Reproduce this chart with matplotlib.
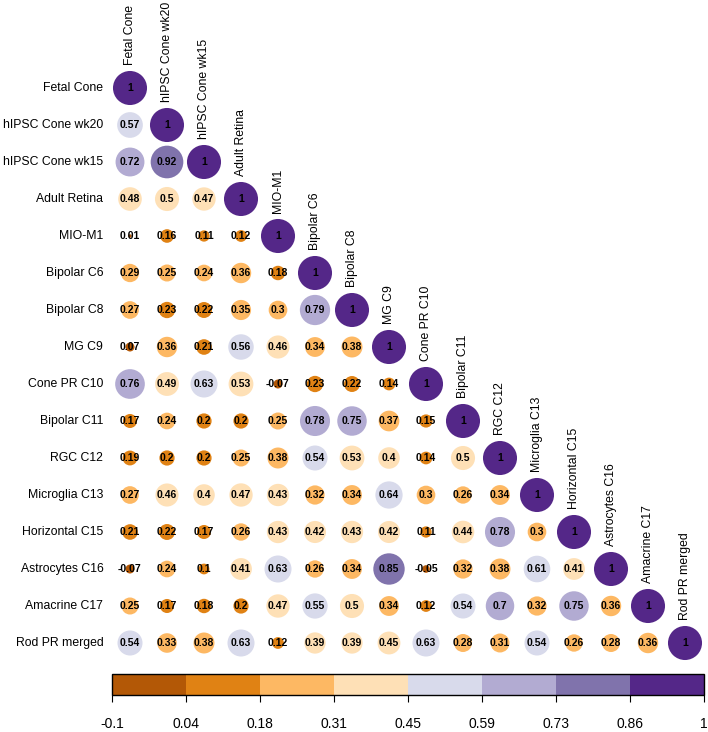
import numpy as np
import matplotlib
matplotlib.use('Agg')
import matplotlib.pyplot as plt
from matplotlib.patches import Circle
from matplotlib.colors import ListedColormap, BoundaryNorm
from matplotlib.cm import ScalarMappable

plt.rcParams['font.family'] = ['Liberation Sans', 'DejaVu Sans']

etiquetas = ['Fetal Cone', 'hIPSC Cone wk20', 'hIPSC Cone wk15', 'Adult Retina',
             'MIO-M1', 'Bipolar C6', 'Bipolar C8', 'MG C9', 'Cone PR C10',
             'Bipolar C11', 'RGC C12', 'Microglia C13', 'Horizontal C15',
             'Astrocytes C16', 'Amacrine C17', 'Rod PR merged']

# triangulo inferior, fila por fila
filas = [
    [1],
    [0.57, 1],
    [0.72, 0.92, 1],
    [0.48, 0.5, 0.47, 1],
    [0.01, 0.16, 0.11, 0.12, 1],
    [0.29, 0.25, 0.24, 0.36, 0.18, 1],
    [0.27, 0.23, 0.22, 0.35, 0.3, 0.79, 1],
    [0.07, 0.36, 0.21, 0.56, 0.46, 0.34, 0.38, 1],
    [0.76, 0.49, 0.63, 0.53, -0.07, 0.23, 0.22, 0.14, 1],
    [0.17, 0.24, 0.2, 0.2, 0.25, 0.78, 0.75, 0.37, 0.15, 1],
    [0.19, 0.2, 0.2, 0.25, 0.38, 0.54, 0.53, 0.4, 0.14, 0.5, 1],
    [0.27, 0.46, 0.4, 0.47, 0.43, 0.32, 0.34, 0.64, 0.3, 0.26, 0.34, 1],
    [0.21, 0.22, 0.17, 0.26, 0.43, 0.42, 0.43, 0.42, 0.11, 0.44, 0.78, 0.3, 1],
    [-0.07, 0.24, 0.1, 0.41, 0.63, 0.26, 0.34, 0.85, -0.05, 0.32, 0.38, 0.61, 0.41, 1],
    [0.25, 0.17, 0.18, 0.2, 0.47, 0.55, 0.5, 0.34, 0.12, 0.54, 0.7, 0.32, 0.75, 0.36, 1],
    [0.54, 0.33, 0.38, 0.63, 0.12, 0.39, 0.39, 0.45, 0.63, 0.28, 0.31, 0.54, 0.26, 0.28, 0.36, 1],
]

limites_barra = [-0.1, 0.04, 0.18, 0.31, 0.45, 0.59, 0.73, 0.86, 1]
etiquetas_barra = ['-0.1', '0.04', '0.18', '0.31', '0.45', '0.59', '0.73', '0.86', '1']
cortes_color = [0.085, 0.235, 0.385, 0.535, 0.685, 0.835, 0.985]

colores = ['#b35806', '#e08214', '#fdb863', '#fee0b6',
           '#d8daeb', '#b2abd2', '#8073ac', '#542788']

W, H = 708, 732
fig = plt.figure(figsize=(W / 100, H / 100), dpi=100)

n = len(etiquetas)
celda = 37
x0, y0 = 111.5, 69.5
ax = fig.add_axes([x0 / W, 1 - (y0 + n * celda) / H, n * celda / W, n * celda / H])
ax.set_xlim(-0.5, n - 0.5)
ax.set_ylim(n - 0.5, -0.5)
ax.axis('off')

for i, fila in enumerate(filas):
    for j, v in enumerate(fila):
        c = colores[int(np.digitize(v, cortes_color))]
        r = np.sqrt(abs(v)) * 0.46
        ax.add_patch(Circle((j, i), r, facecolor=c, edgecolor='none', clip_on=False))
        ax.text(j, i, f'{v:g}', ha='center', va='center', fontsize=7.5,
                fontweight='bold', color='black')

for i, nombre in enumerate(etiquetas):
    ax.text(-0.72, i, nombre, ha='right', va='center', fontsize=8.8)
    ax.text(i, i - 0.62, nombre, ha='center', va='bottom', rotation=90, fontsize=8.8)

# barra de color
cax = fig.add_axes([112 / W, 1 - 695 / H, 592 / W, 21 / H])
sm = ScalarMappable(norm=BoundaryNorm(limites_barra, len(colores)),
                    cmap=ListedColormap(colores))
cb = fig.colorbar(sm, cax=cax, orientation='horizontal', ticks=limites_barra)
cb.set_ticklabels(etiquetas_barra)
cb.outline.set_linewidth(1)
cax.tick_params(length=5, width=0.8, pad=11, labelsize=10)

plt.savefig('out.png', dpi=100)
